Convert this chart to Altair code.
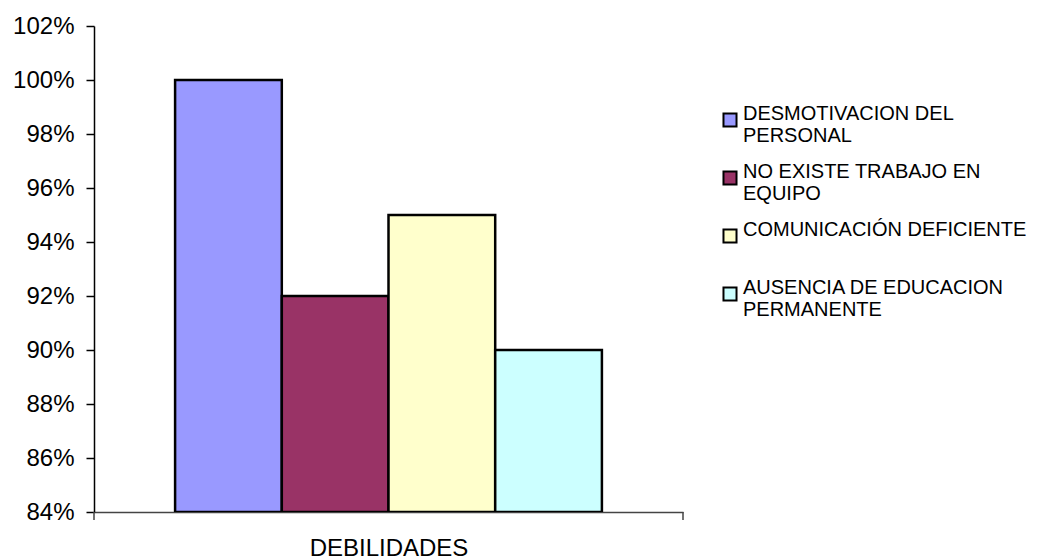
import altair as alt
import pandas as pd

series = [
    "DESMOTIVACION DEL|PERSONAL",
    "NO EXISTE TRABAJO EN|EQUIPO",
    "COMUNICACIÓN DEFICIENTE|",
    "AUSENCIA DE EDUCACION|PERMANENTE",
]
values = [1.00, 0.92, 0.95, 0.90]
colors = ["#9999FF", "#993366", "#FFFFCC", "#CCFFFF"]
group = ["DEBILIDADES"] * 4
y_ticks = [0.84, 0.86, 0.88, 0.90, 0.92, 0.94, 0.96, 0.98, 1.00, 1.02]
axis_ends = [0, 1]

df = pd.DataFrame({"grupo": group, "serie": series, "valor": values})

W, H = 589, 486
FONT = "Liberation Sans"

bars = alt.Chart(df).mark_bar(stroke="black", strokeWidth=2.5, clip=True).encode(
    x=alt.X("grupo:N",
            scale=alt.Scale(paddingInner=0, paddingOuter=0.19),
            axis=alt.Axis(labels=False, ticks=False, domain=True, domainColor="#444444",
                          domainWidth=1.5, title="DEBILIDADES", titleFontSize=24,
                          titleFontWeight="normal", titleFont=FONT, titlePadding=24,
                          titleColor="black")),
    xOffset=alt.XOffset("serie:N", sort=series,
                        scale=alt.Scale(paddingInner=0, paddingOuter=0)),
    y=alt.Y("valor:Q",
            scale=alt.Scale(domain=[0.84, 1.02], zero=False, nice=False),
            axis=alt.Axis(values=y_ticks, format=".0%", title=None, grid=False,
                          tickSize=8, tickColor="black", tickWidth=1.5,
                          domainColor="black", domainWidth=1.5,
                          labelFont=FONT, labelFontSize=24, labelColor="black",
                          labelPadding=12)),
    y2=alt.Y2(datum=0.84),
    color=alt.Color("serie:N", sort=series,
                    scale=alt.Scale(domain=series, range=colors),
                    legend=alt.Legend(title=None, orient="none", legendX=626, legendY=84,
                                      symbolType="square", symbolSize=170,
                                      symbolStrokeColor="black", symbolStrokeWidth=2,
                                      labelFont=FONT, labelFontSize=20, labelColor="black",
                                      labelBaseline="alphabetic", labelOffset=3,
                                      labelLimit=400, rowPadding=16,
                                      labelExpr="split(datum.label, '|')")),
)

ext = pd.DataFrame({"pos": axis_ends})
end_ticks = alt.Chart(ext).mark_rule(color="#444444", strokeWidth=1.5).encode(
    x=alt.X("pos:Q", scale=alt.Scale(domain=[0, 1], range=[0, W]), axis=None),
    y=alt.value(H),
    y2=alt.value(H + 8),
)

chart = alt.layer(bars, end_ticks).resolve_scale(x="independent").properties(
    width=W, height=H,
    autosize=alt.AutoSizeParams(type="none"),
    padding={"left": 86, "top": 18, "right": 351, "bottom": 47},
).configure_view(stroke=None)

chart.save("out.html", embed_options={"renderer": "svg", "actions": False})
